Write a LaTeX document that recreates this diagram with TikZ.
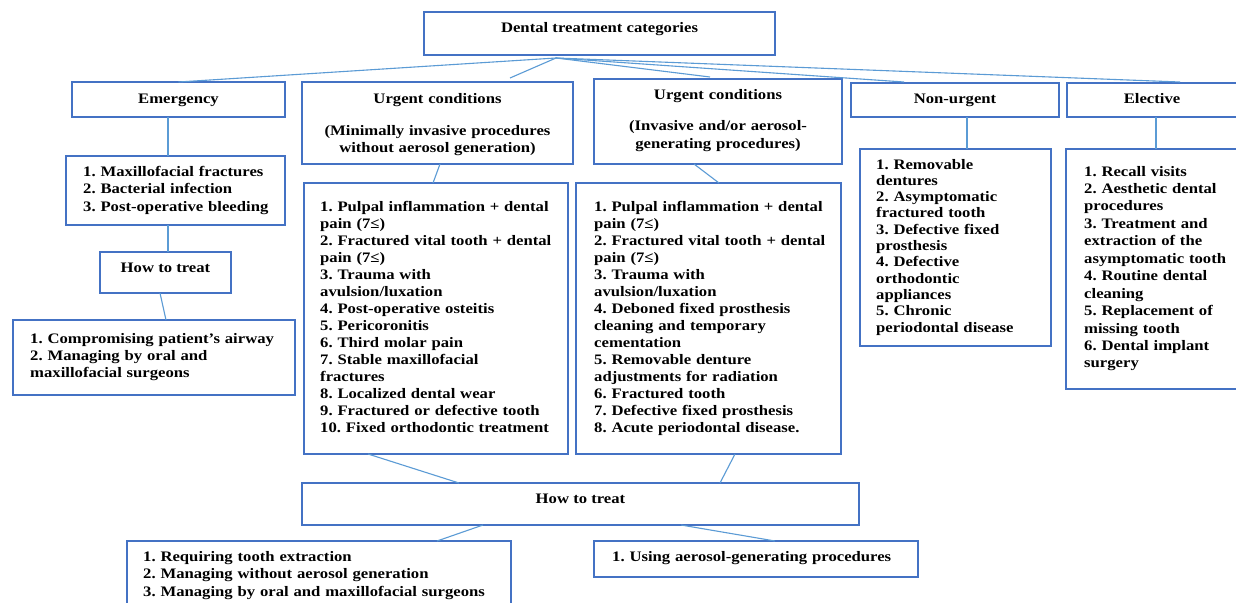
\documentclass[tikz,border=0pt]{standalone}
\usepackage{fontspec}
\setmainfont{Liberation Serif}[FakeStretch=1.15]
\usetikzlibrary{calc}
\definecolor{boxblue}{RGB}{68,114,196}
\definecolor{linkblue}{RGB}{91,155,213}
\newcommand\dtfont[1]{\fontsize{14.5}{#1}\selectfont\bfseries\frenchspacing}
\begin{document}
\begin{tikzpicture}[x=1pt,y=-1pt,
  box/.style={draw=boxblue, line width=2.6pt, rectangle, inner sep=0pt, outer sep=0pt},
  link/.style={draw=linkblue, line width=1.1pt},
  ctxt/.style={inner sep=0pt, anchor=base, font=\dtfont{17}},
  mtxt/.style={inner sep=0pt, anchor=base, align=center, text width=260pt, font=\dtfont{17}},
  ltxt/.style={inner sep=0pt, anchor=base west, align=left, text width=420pt, font=\dtfont{#1}},
  ltxt/.default=17.5
]
\useasboundingbox (0,0) rectangle (1236,602);
\fill[white] (0,0) rectangle (1236,602);
\clip (0,0) rectangle (1236,602);

% boxes
\node[box, minimum width=351pt, minimum height=43pt] (top) at (599.5,33.5) {};
\node[box, minimum width=213pt, minimum height=35pt] (emerg) at (178.5,99.5) {};
\node[box, minimum width=271pt, minimum height=82pt] (urg1) at (437.5,123) {};
\node[box, minimum width=248pt, minimum height=85pt] (urg2) at (718,121.5) {};
\node[box, minimum width=208pt, minimum height=34pt] (nonurg) at (955,100) {};
\node[box, minimum width=170pt, minimum height=34pt] (elect) at (1152,100) {};
\node[box, minimum width=219pt, minimum height=69pt] (elist) at (175.5,190.5) {};
\node[box, minimum width=131pt, minimum height=41pt] (how1) at (165.5,272.5) {};
\node[box, minimum width=282pt, minimum height=75pt] (comp) at (154,357.5) {};
\node[box, minimum width=264pt, minimum height=271pt] (ulist1) at (436,318.5) {};
\node[box, minimum width=265pt, minimum height=271pt] (ulist2) at (708.5,318.5) {};
\node[box, minimum width=191pt, minimum height=197pt] (nlist) at (955.5,247.5) {};
\node[box, minimum width=171pt, minimum height=240pt] (eclist) at (1151.5,269) {};
\node[box, minimum width=557pt, minimum height=42pt] (how2) at (580.5,504) {};
\node[box, minimum width=384pt, minimum height=79pt] (blist1) at (319,580.5) {};
\node[box, minimum width=324pt, minimum height=36pt] (blist2) at (756,559) {};

% texts
\node[ctxt] (ttop) at (599.5,33) {Dental treatment categories};
\node[ctxt] (temerg) at (178.5,103) {Emergency};
\node[mtxt] (turg1) at (437.5,103) {Urgent conditions\\[15pt](Minimally invasive procedures\\without aerosol generation)};
\node[mtxt] (turg2) at (718,99) {Urgent conditions\\[15pt](Invasive and/or aerosol-\\generating procedures)};
\node[ctxt] (tnonurg) at (955,103) {Non-urgent};
\node[ctxt] (telect) at (1152,103) {Elective};
\node[ltxt=17.5] (telist) at (83,176) {1. Maxillofacial fractures\\2. Bacterial infection\\3. Post-operative bleeding};
\node[ctxt] (thow1) at (165.5,272) {How to treat};
\node[ltxt=17] (tcomp) at (30,343) {1. Compromising patient’s airway\\2. Managing by oral and\\maxillofacial surgeons};
\node[ltxt=17] (tulist1) at (320,211) {1. Pulpal inflammation + dental\\pain (7≤)\\2. Fractured vital tooth + dental\\pain (7≤)\\3. Trauma with\\avulsion/luxation\\4. Post-operative osteitis\\5. Pericoronitis\\6. Third molar pain\\7. Stable maxillofacial\\fractures\\8. Localized dental wear\\9. Fractured or defective tooth\\10. Fixed orthodontic treatment};
\node[ltxt=17] (tulist2) at (594,211) {1. Pulpal inflammation + dental\\pain (7≤)\\2. Fractured vital tooth + dental\\pain (7≤)\\3. Trauma with\\avulsion/luxation\\4. Deboned fixed prosthesis\\cleaning and temporary\\cementation\\5. Removable denture\\adjustments for radiation\\6. Fractured tooth\\7. Defective fixed prosthesis\\8. Acute periodontal disease.};
\node[ltxt=16.3] (tnlist) at (876,169) {1. Removable\\dentures\\2. Asymptomatic\\fractured tooth\\3. Defective fixed\\prosthesis\\4. Defective\\orthodontic\\appliances\\5. Chronic\\periodontal disease};
\node[ltxt=17.45] (teclist) at (1084,176) {1. Recall visits\\2. Aesthetic dental\\procedures\\3. Treatment and\\extraction of the\\asymptomatic tooth\\4. Routine dental\\cleaning\\5. Replacement of\\missing tooth\\6. Dental implant\\surgery};
\node[ctxt] (thow2) at (580.5,503) {How to treat};
\node[ltxt=17.5] (tblist1) at (143,561) {1. Requiring tooth extraction\\2. Managing without aerosol generation\\3. Managing by oral and maxillofacial surgeons};
\node[ltxt=17.5] (tblist2) at (612,561) {1. Using aerosol-generating procedures};

% connectors
\coordinate (hub) at ([xshift=-43.5pt,yshift=-3pt]top.south);
\draw[link] (hub) -- (emerg.north);
\draw[link] (hub) -- ([xshift=72.5pt,yshift=4pt]urg1.north);
\draw[link] (hub) -- ([xshift=-8pt,yshift=2pt]urg2.north);
\draw[link] (hub) -- ([xshift=-51pt,yshift=1pt]nonurg.north);
\draw[link] (hub) -- ([xshift=28pt,yshift=1pt]elect.north);
\draw[link] ([xshift=-10.5pt]emerg.south) -- ([xshift=-7.5pt]elist.north);
\draw[link] ([xshift=-7.5pt]elist.south) -- ([xshift=2.5pt]how1.north);
\draw[link] ([xshift=-5.5pt]how1.south) -- ([xshift=12pt]comp.north);
\draw[link] ([xshift=2.5pt]urg1.south) -- ([xshift=-3pt]ulist1.north);
\draw[link] ([xshift=-24pt]urg2.south) -- ([xshift=10.5pt]ulist2.north);
\draw[link] ([xshift=12pt]nonurg.south) -- ([xshift=11.5pt]nlist.north);
\draw[link] ([xshift=4pt]elect.south) -- ([xshift=4.5pt]eclist.north);
\draw[link] ([xshift=-68pt]ulist1.south) -- ([xshift=-121.5pt]how2.north);
\draw[link] ([xshift=26.5pt]ulist2.south) -- ([xshift=139.5pt]how2.north);
\draw[link] ([xshift=-97.5pt]how2.south) -- ([xshift=118pt]blist1.north);
\draw[link] ([xshift=100.5pt]how2.south) -- ([xshift=19pt]blist2.north);
\end{tikzpicture}
\end{document}
